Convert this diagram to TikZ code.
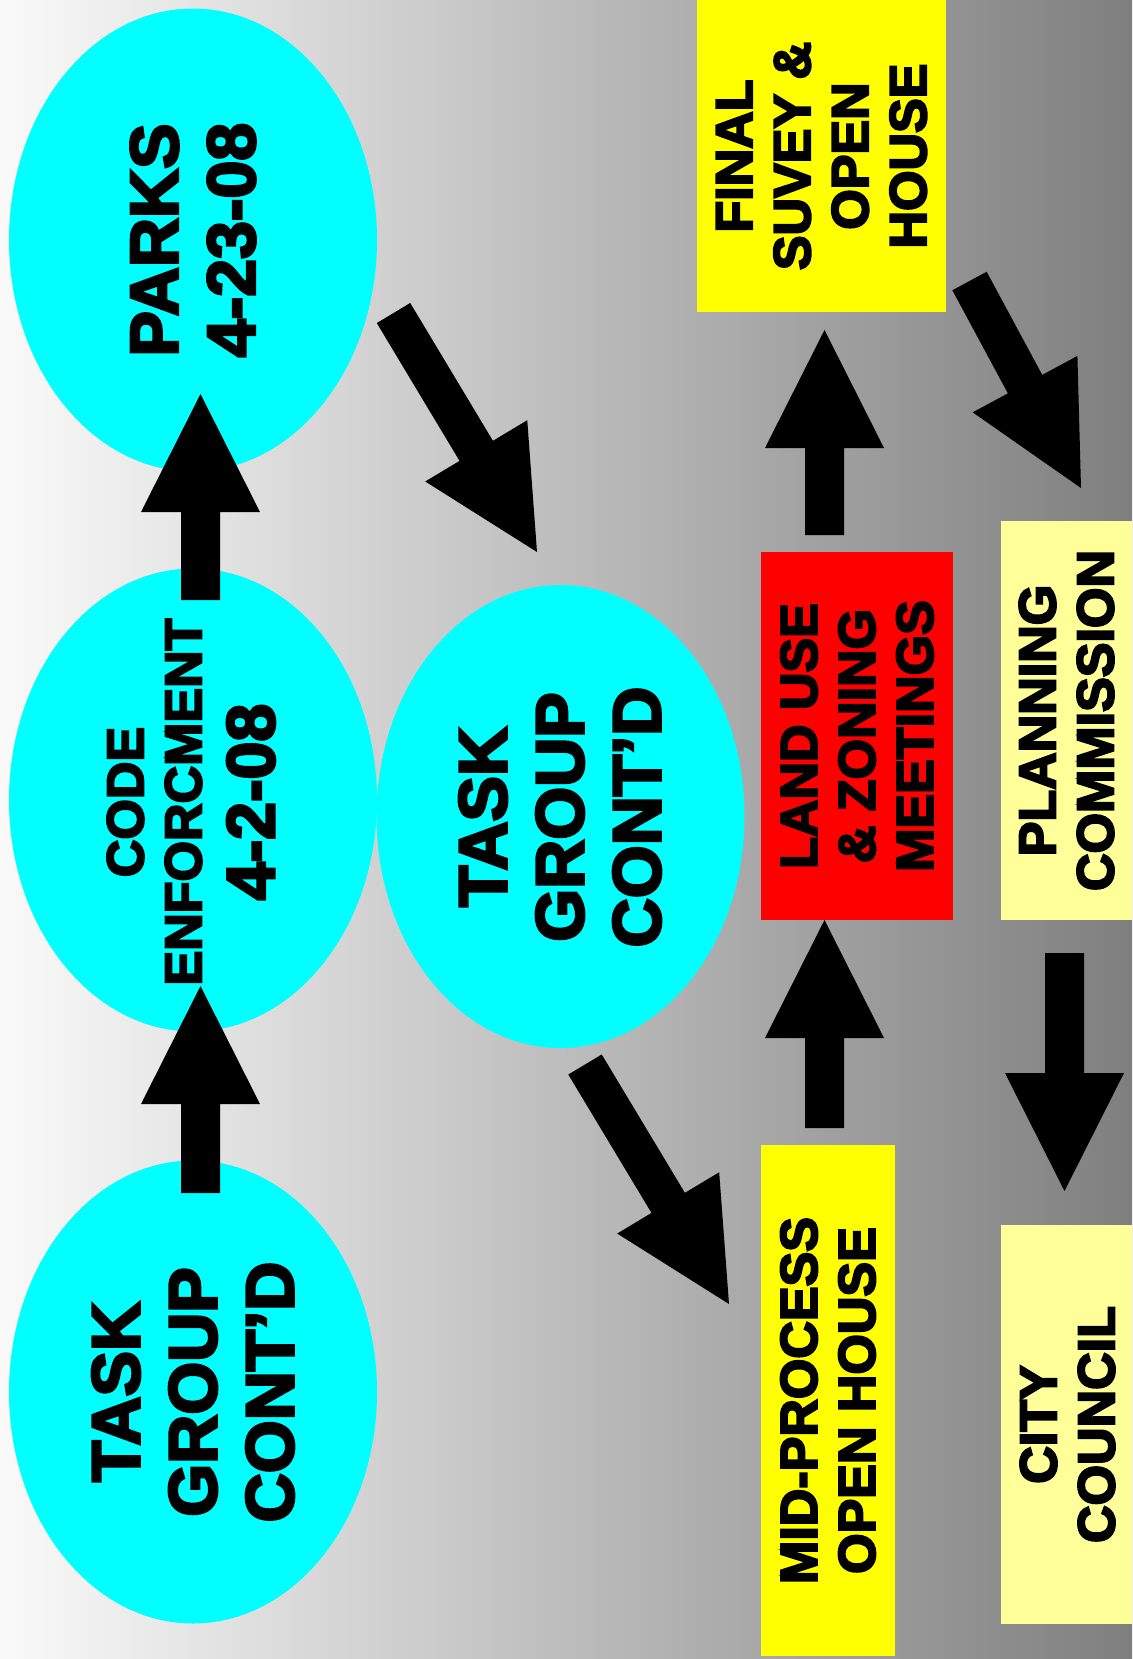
\documentclass[tikz,border=0pt]{standalone}
\usepackage{fontspec}
\setmainfont{Liberation Sans}[BoldFeatures={FakeBold=4}]
\usetikzlibrary{shapes.geometric,calc}
\definecolor{cyanfill}{RGB}{0,255,255}
\definecolor{yelfill}{RGB}{255,255,0}
\definecolor{redfill}{RGB}{255,0,0}
\definecolor{paleyel}{RGB}{255,255,153}
\definecolor{bgleft}{RGB}{250,250,250}
\definecolor{bgmid}{RGB}{210,210,210}
\definecolor{bgright}{RGB}{127,127,127}
\newcommand\blockarrow[2]{%
  \coordinate (ba-q) at ($(#2)!118pt!(#1)$);
  \fill[black] ($(#1)!19.5pt!90:(#2)$) -- ($(ba-q)!19.5pt!90:(#2)$) -- ($(ba-q)!59.5pt!90:(#2)$) -- (#2)
    -- ($(ba-q)!59.5pt!-90:(#2)$) -- ($(ba-q)!19.5pt!-90:(#2)$) -- ($(#1)!19.5pt!-90:(#2)$) -- cycle;}
\begin{document}
\begin{tikzpicture}[x=1pt,y=-1pt,
  ell/.style={ellipse, fill=cyanfill, draw=none, inner sep=0pt, minimum width=368pt, minimum height=463pt},
  bx/.style={rectangle, draw=none, inner sep=0pt},
  bigtxt/.style={rotate=90, align=center, inner sep=0pt, font=\bfseries\fontsize{68}{77}\selectfont},
  smalltxt/.style={rotate=90, align=center, inner sep=0pt, font=\bfseries\fontsize{52}{58}\selectfont}]
\useasboundingbox (0,0) rectangle (1132,1659);
\shade[left color=bgleft, middle color=bgmid, right color=bgright] (0,0) rectangle (1132,1659);
% ellipses
\node[ell] (parks) at (193,240) {};
\node[ell] (code) at (193,800) {};
\node[ell] (task1) at (193,1392) {};
\node[ell] (task2) at (560.5,816.5) {};
% boxes
\node[bx, fill=yelfill, minimum width=249pt, minimum height=312pt] (final) at (821.5,156) {};
\node[bx, fill=redfill, minimum width=192pt, minimum height=368pt] (land) at (857,736) {};
\node[bx, fill=paleyel, minimum width=131pt, minimum height=399pt] (plan) at (1066.5,720.5) {};
\node[bx, fill=yelfill, minimum width=134pt, minimum height=511pt] (mid) at (828,1400.5) {};
\node[bx, fill=paleyel, minimum width=131pt, minimum height=399pt] (city) at (1066.5,1424.5) {};
% texts
\node[bigtxt] (parks-t) at (parks) {PARKS\\4-23-08};
\node[smalltxt] (code-t) at (191,802) {CODE\\ENFORCMENT\\[15pt]{\fontsize{68}{68}\selectfont 4-2-08}};
\node[bigtxt] (task1-t) at (193,1392) {TASK\\GROUP\\CONT’D};
\node[bigtxt] (task2-t) at (560,817) {TASK\\GROUP\\CONT’D};
\node[smalltxt] (final-t) at (final) {FINAL\\SUVEY \&\\OPEN\\HOUSE};
\node[smalltxt] (land-t) at (land) {LAND USE\\\& ZONING\\MEETINGS};
\node[smalltxt] (plan-t) at (plan) {PLANNING\\COMMISSION};
\node[smalltxt] (mid-t) at (mid) {MID-PROCESS\\OPEN HOUSE};
\node[smalltxt] (city-t) at (1067.5,1424.5) {CITY\\COUNCIL};
% arrow ends
\coordinate (a1t) at (200.5,1193); \coordinate (a1h) at (200.5,986);
\coordinate (a2t) at (200.5,600);  \coordinate (a2h) at (200.5,394);
\coordinate (a3t) at (393.5,313);  \coordinate (a3h) at (537,552);
\coordinate (a4t) at (585,1064.5); \coordinate (a4h) at (729,1304);
\coordinate (a5t) at (824.5,1128); \coordinate (a5h) at (824.5,920);
\coordinate (a6t) at (824.5,535);  \coordinate (a6h) at (824.5,330);
\coordinate (a7t) at (969.5,281);  \coordinate (a7h) at (1081,488);
\coordinate (a8t) at (1064.5,953); \coordinate (a8h) at (1064.5,1191);
\blockarrow{a1t}{a1h}
\blockarrow{a2t}{a2h}
\blockarrow{a3t}{a3h}
\blockarrow{a4t}{a4h}
\blockarrow{a5t}{a5h}
\blockarrow{a6t}{a6h}
\blockarrow{a7t}{a7h}
\blockarrow{a8t}{a8h}
\end{tikzpicture}
\end{document}
